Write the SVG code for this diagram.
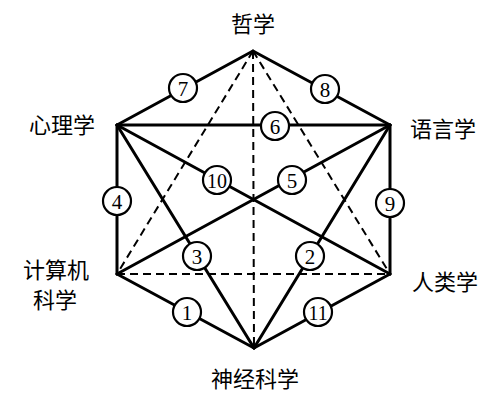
<svg xmlns="http://www.w3.org/2000/svg" width="504" height="404" viewBox="0 0 504 404">
<style>
.lbl{font-family:"Noto Sans CJK SC","Liberation Serif",serif;font-size:22px;fill:#000;text-anchor:middle;dominant-baseline:central}
.e{stroke:#000;stroke-width:3;fill:none;stroke-linecap:round}
.d{stroke:#000;stroke-width:2;fill:none;stroke-dasharray:8 5}
.c{fill:#fff;stroke:#000;stroke-width:2.2}
.n{font-family:"Liberation Serif",serif;font-size:21px;fill:#000;text-anchor:middle;dominant-baseline:central}
</style>
<rect width="504" height="404" fill="#fff"/>
<g id="connectors">
<line class="d" x1="253" y1="51" x2="254" y2="348"/>
<line class="d" x1="117" y1="274" x2="390" y2="274"/>
<line class="d" x1="253" y1="51" x2="117" y2="274"/>
<line class="d" x1="253" y1="51" x2="390" y2="274"/>
<line class="e" x1="253" y1="51" x2="117" y2="125"/>
<line class="e" x1="253" y1="51" x2="390" y2="125"/>
<line class="e" x1="117" y1="125" x2="117" y2="274"/>
<line class="e" x1="390" y1="125" x2="390" y2="274"/>
<line class="e" x1="117" y1="274" x2="254" y2="348"/>
<line class="e" x1="390" y1="274" x2="254" y2="348"/>
<line class="e" x1="117" y1="125" x2="390" y2="125"/>
<line class="e" x1="117" y1="125" x2="390" y2="274"/>
<line class="e" x1="117" y1="274" x2="390" y2="125"/>
<line class="e" x1="117" y1="125" x2="254" y2="348"/>
<line class="e" x1="390" y1="125" x2="254" y2="348"/>
<g id="e1"><circle class="c" cx="187" cy="312" r="14"/><text class="n" x="187" y="313">1</text></g>
<g id="e2"><circle class="c" cx="310" cy="256" r="14"/><text class="n" x="310" y="257">2</text></g>
<g id="e3"><circle class="c" cx="197" cy="256" r="14"/><text class="n" x="197" y="257">3</text></g>
<g id="e4"><circle class="c" cx="117" cy="201" r="14"/><text class="n" x="117" y="202">4</text></g>
<g id="e5"><circle class="c" cx="292" cy="180" r="14"/><text class="n" x="292" y="181">5</text></g>
<g id="e6"><circle class="c" cx="275" cy="126" r="14"/><text class="n" x="275" y="127">6</text></g>
<g id="e7"><circle class="c" cx="183" cy="88" r="14"/><text class="n" x="183" y="89">7</text></g>
<g id="e8"><circle class="c" cx="325" cy="89" r="14"/><text class="n" x="325" y="90">8</text></g>
<g id="e9"><circle class="c" cx="390" cy="203" r="14"/><text class="n" x="390" y="204">9</text></g>
<g id="e10"><circle class="c" cx="217" cy="180" r="14"/><text class="n" x="217" y="181" textLength="20" lengthAdjust="spacingAndGlyphs">10</text></g>
<g id="e11"><circle class="c" cx="318" cy="312" r="14"/><text class="n" x="318" y="313" textLength="19" lengthAdjust="spacingAndGlyphs">11</text></g>
</g>
<g id="philosophy"><text class="lbl" x="253" y="22">哲学</text></g>
<g id="psychology"><text class="lbl" x="62" y="123">心理学</text></g>
<g id="linguistics"><text class="lbl" x="443" y="127">语言学</text></g>
<g id="computer-science"><text class="lbl" x="56" y="268">计算机</text><text class="lbl" x="55" y="298">科学</text></g>
<g id="anthropology"><text class="lbl" x="445" y="280">人类学</text></g>
<g id="neuroscience"><text class="lbl" x="255" y="377">神经科学</text></g>
</svg>
